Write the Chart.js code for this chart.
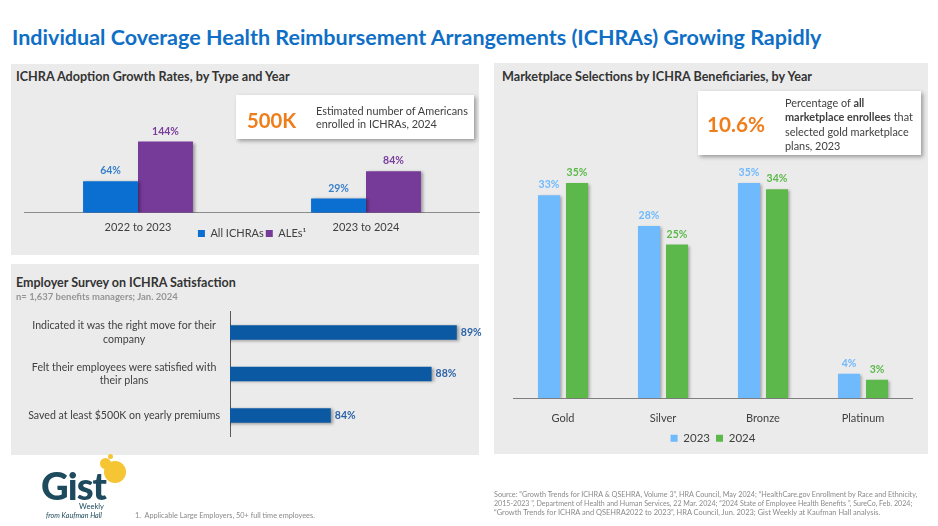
<!DOCTYPE html>
<html><head><meta charset="utf-8">
<script src="https://cdn.jsdelivr.net/npm/chart.js@4.4.1/dist/chart.umd.min.js"></script>
<style>
body{margin:0;width:938px;height:526px;background:#fff;position:relative;overflow:hidden;font-family:Lato,'Open Sans',sans-serif;color:#404040;}
.a{position:absolute;white-space:nowrap;}
.panel{position:absolute;background:#ebebeb;}
.box{position:absolute;background:#fff;box-shadow:2px 2px 4px rgba(0,0,0,0.35);}
canvas{position:absolute;}
.ttl{font-weight:700;color:#333;}
.big{font-weight:700;color:#ef7d1a;}
.gray{opacity:0.999;will-change:transform;}
.src{font-size:7.4px;color:#8a8a8a;}
.dot{position:absolute;border-radius:50%;background:#f6c533;}
</style></head>
<body>
<div class="a" id="title" data-w="810" style="left:12px;top:22px;font-size:22px;font-weight:700;color:#0f6fc6;line-height:30px;">Individual Coverage Health Reimbursement Arrangements (ICHRAs) Growing Rapidly</div>

<div class="panel" style="left:11px;top:64px;width:468px;height:191px;"></div>
<div class="panel" style="left:11px;top:264px;width:468px;height:191px;"></div>
<div class="panel" style="left:494px;top:63px;width:434px;height:391px;"></div>

<canvas id="c1" width="456" height="166" style="left:24px;top:99px;width:456px;height:166px;"></canvas>
<canvas id="c2" width="462" height="165" style="left:20px;top:295px;width:462px;height:165px;"></canvas>
<canvas id="c3" width="400" height="327" style="left:513px;top:140px;width:400px;height:327px;"></canvas>

<div class="a ttl" data-w="274" style="left:16px;top:69px;font-size:12.5px;line-height:16px;">ICHRA Adoption Growth Rates, by Type and Year</div>
<div class="a ttl" data-w="220" style="left:16px;top:274px;font-size:13.5px;line-height:18px;">Employer Survey on ICHRA Satisfaction</div>
<div class="a" data-w="162" style="left:16px;top:291px;font-size:9px;font-weight:700;color:#959595;line-height:12px;">n= 1,637 benefits managers; Jan. 2024</div>
<div class="a ttl" data-w="310" style="left:502px;top:69px;font-size:12.5px;line-height:16px;">Marketplace Selections by ICHRA Beneficiaries, by Year</div>

<div class="box" style="left:236px;top:95px;width:238px;height:44px;"></div>
<div class="a big" data-w="49" style="left:247px;top:107px;font-size:21px;line-height:26px;">500K</div>
<div class="a" style="left:316px;top:105px;font-size:11.5px;line-height:12.5px;color:#404040;"><span data-w="152">Estimated number of Americans</span><br>enrolled in ICHRAs, 2024</div>

<div class="box" style="left:698px;top:91px;width:223px;height:64px;"></div>
<div class="a big" data-w="58" style="left:707px;top:110px;font-size:22px;line-height:28px;">10.6%</div>
<div class="a" style="left:785px;top:96px;font-size:11.5px;line-height:14.4px;color:#404040;">Percentage of <b>all</b><br><span data-w="128"><b>marketplace enrollees</b> that</span><br>selected gold marketplace<br>plans, 2023</div>

<!-- logo -->
<div class="dot" style="left:104px;top:461px;width:22px;height:22px;"></div>
<div class="dot" style="left:100px;top:458px;width:11px;height:11px;"></div>
<div class="dot" style="left:108px;top:454px;width:5px;height:5px;"></div>
<div class="a" data-w="65" style="left:41px;top:465px;font-size:38px;font-weight:900;color:#1d4a5c;line-height:40px;letter-spacing:-1px;">Gist</div>
<div class="a gray" data-w="25" style="left:79px;top:501px;font-size:9px;color:#1d4a5c;line-height:11px;">Weekly</div>
<div class="a gray" data-w="56" style="left:46px;top:511px;font-size:6.5px;font-style:italic;color:#1d4a5c;line-height:9px;">from Kaufman Hall</div>

<div class="a gray" data-w="180" style="left:135px;top:511px;font-size:7.5px;color:#8a8a8a;line-height:9px;">1.&nbsp; Applicable Large Employers, 50+ full time employees.</div>

<div class="a src gray" data-w="423" style="left:494px;top:490px;line-height:9px;">Source: “Growth Trends for ICHRA &amp; QSEHRA, Volume 3”, HRA Council, May 2024; “HealthCare.gov Enrollment by Race and Ethnicity,</div>
<div class="a src gray" data-w="418" style="left:494px;top:499px;line-height:9px;">2015-2023 ”, Department of Health and Human Services, 22 Mar. 2024; “2024 State of Employee Health Benefits ”, SureCo, Feb. 2024;</div>
<div class="a src gray" data-w="386" style="left:494px;top:508px;line-height:9px;">“Growth Trends for ICHRA and QSEHRA2022 to 2023”, HRA Council, Jun. 2023; Gist Weekly at Kaufman Hall analysis.</div>

<script>
// ---- data ----
const growthCategories = ['2022 to 2023', '2023 to 2024'];
const growthSeriesNames = ['All ICHRAs', 'ALEs\u00B9'];
const allIchrasGrowth = [64, 29];
const alesGrowth = [144, 84];

const surveyLabels = [
  ['Indicated it was the right move for their', 'company'],
  ['Felt their employees were satisfied with', 'their plans'],
  'Saved at least $500K on yearly premiums'
];
const surveyValues = [89, 88, 84];

const metalTiers = ['Gold', 'Silver', 'Bronze', 'Platinum'];
const selectionYears = ['2023', '2024'];
const selections2023 = [33, 28, 35, 4];
const selections2024 = [35, 25, 34, 3];

// ---- fit text widths ----
document.querySelectorAll('[data-w]').forEach(el => {
  const target = parseFloat(el.dataset.w);
  const w = el.getBoundingClientRect().width;
  const host = el.tagName === 'SPAN' ? el.parentElement : el;
  const fs = parseFloat(getComputedStyle(host).fontSize);
  if (w > 0) host.style.fontSize = (fs * target / w).toFixed(2) + 'px';
});

const FONT = 'Lato';
Chart.defaults.font.family = FONT;
Chart.defaults.color = '#404040';

const barShadow = {
  id: 'barShadow',
  beforeDatasetsDraw(chart) {
    const c = chart.ctx; c.save();
    c.shadowColor = 'rgba(0,0,0,0.35)'; c.shadowBlur = 3; c.shadowOffsetX = 2; c.shadowOffsetY = 1;
  },
  afterDatasetsDraw(chart) { chart.ctx.restore(); }
};
const valueLabels = {
  id: 'valueLabels',
  afterDatasetsDraw(chart, args, opts) {
    const ctx = chart.ctx;
    chart.data.datasets.forEach((ds, i) => {
      const meta = chart.getDatasetMeta(i);
      meta.data.forEach((el, j) => {
        ctx.save();
        ctx.font = 'bold ' + opts.size + 'px ' + FONT;
        ctx.fillStyle = ds.labelColor;
        const t = ds.data[j] + '%';
        if (chart.options.indexAxis === 'y') {
          ctx.textAlign = 'left'; ctx.textBaseline = 'middle';
          ctx.fillText(t, el.x + opts.offset, el.y);
        } else {
          ctx.textAlign = 'center'; ctx.textBaseline = 'bottom';
          ctx.fillText(t, el.x, el.y - opts.offset);
        }
        ctx.restore();
      });
    });
  }
};
// moves the legend box vertically after layout (legend sits between the tick labels)
const legendShift = {
  id: 'legendShift',
  afterLayout(chart, args, opts) {
    const lg = chart.legend;
    if (!lg || !opts.dy) return;
    lg.top += opts.dy; lg.bottom += opts.dy;
  }
};

// ---- chart 1 ----
new Chart(document.getElementById('c1'), {
  type: 'bar',
  data: {
    labels: growthCategories,
    datasets: [
      { label: growthSeriesNames[0], data: allIchrasGrowth, backgroundColor: '#0a6fd0', labelColor: '#3a80c8', categoryPercentage: 0.482, barPercentage: 1 },
      { label: growthSeriesNames[1], data: alesGrowth, backgroundColor: '#763a99', labelColor: '#7a3e9d', categoryPercentage: 0.482, barPercentage: 1 }
    ]
  },
  options: {
    responsive: false, animation: false, events: [],
    layout: { padding: 0 },
    plugins: {
      legend: { position: 'bottom', labels: { boxWidth: 7, boxHeight: 7, padding: 2, font: { size: 11 }, color: '#404040' } },
      legendShift: { dy: -16 },
      tooltip: { enabled: false },
      valueLabels: { size: 10.5, offset: 5 }
    },
    scales: {
      x: { grid: { display: false, drawTicks: false }, border: { color: '#8c8c8c', width: 1 }, ticks: { padding: 8, font: { size: 11 }, color: '#404040' } },
      y: { display: false, min: 0, max: 230 }
    }
  },
  plugins: [barShadow, valueLabels, legendShift]
});

// ---- chart 2 ----
new Chart(document.getElementById('c2'), {
  type: 'bar',
  data: {
    labels: surveyLabels,
    datasets: [
      { label: 'Share', data: surveyValues, backgroundColor: '#0b58a3', labelColor: '#2a62a8', categoryPercentage: 1, barPercentage: 0.35 }
    ]
  },
  options: {
    indexAxis: 'y',
    responsive: false, animation: false, events: [],
    layout: { padding: 0 },
    plugins: { legend: { display: false }, tooltip: { enabled: false }, valueLabels: { size: 10.5, offset: 4 } },
    scales: {
      x: { display: false, min: 80, max: 90 },
      y: {
        afterFit: s => { s.width = 210; },
        grid: { display: false, drawTicks: false },
        border: { color: '#595959', width: 1 },
        ticks: { crossAlign: 'center', padding: 10, font: { size: 10.6, lineHeight: 1.3 }, color: '#404040' }
      }
    }
  },
  plugins: [barShadow, valueLabels]
});

// ---- chart 3 ----
new Chart(document.getElementById('c3'), {
  type: 'bar',
  data: {
    labels: metalTiers,
    datasets: [
      { label: selectionYears[0], data: selections2023, backgroundColor: '#6fb9fd', labelColor: '#6fb9fd', categoryPercentage: 0.56, barPercentage: 0.79 },
      { label: selectionYears[1], data: selections2024, backgroundColor: '#5cb84a', labelColor: '#5cb84a', categoryPercentage: 0.56, barPercentage: 0.79 }
    ]
  },
  options: {
    responsive: false, animation: false, events: [],
    layout: { padding: 0 },
    plugins: {
      legend: { position: 'bottom', labels: { boxWidth: 7, boxHeight: 7, padding: 6, font: { size: 11.5 }, color: '#404040' } },
      legendShift: { dy: -13 },
      tooltip: { enabled: false },
      valueLabels: { size: 10.5, offset: 5 }
    },
    scales: {
      x: { grid: { display: false, drawTicks: false }, border: { color: '#7f7f7f', width: 1 }, ticks: { padding: 14, font: { size: 11 }, color: '#404040' } },
      y: { display: false, min: 0, max: 42 }
    }
  },
  plugins: [barShadow, valueLabels, legendShift]
});
</script>
</body></html>
